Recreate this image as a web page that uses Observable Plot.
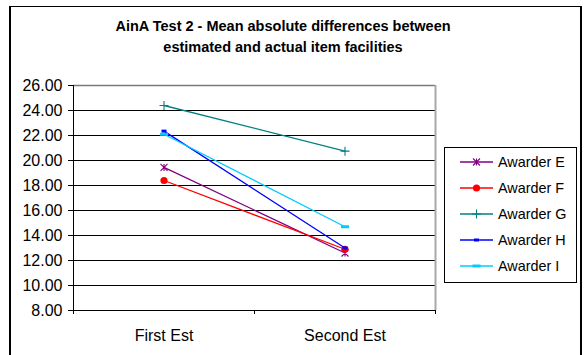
<!DOCTYPE html>
<html>
<head>
<meta charset="utf-8">
<script src="https://cdn.jsdelivr.net/npm/d3@7"></script>
<script src="https://cdn.jsdelivr.net/npm/@observablehq/plot@0.6"></script>
<style>
  body { margin: 0; background: #fff; font-family: "Liberation Sans", Arial, sans-serif; }
  #chart { position: relative; width: 585px; height: 355px; overflow: hidden; background: #fff; }
  #frame { position: absolute; left: 9px; top: 6px; width: 569px; height: 400px;
           border-top: 1px solid #000; border-left: 2px solid #000; border-right: 2px solid #000; }
  #title { position: absolute; left: 0; top: 16px; width: 566px; text-align: center;
           font-weight: bold; font-size: 14.5px; line-height: 21px; color: #000; }
  #plot { position: absolute; left: 0; top: 0; }
  #legend { position: absolute; left: 444px; top: 147px; }
</style>
</head>
<body>
<div id="chart">
  <div id="plot"></div>
  <div id="frame"></div>
  <div id="title">AinA Test 2 - Mean absolute differences between<br>estimated and actual item facilities</div>
  <div id="legend"></div>
</div>
<script>
// Categories and series values
const categories = ["First Est", "Second Est"];
const seriesNames = ["Awarder E", "Awarder F", "Awarder G", "Awarder H", "Awarder I"];
const awarderE = [19.45, 12.6];
const awarderF = [18.4, 12.9];
const awarderG = [24.4, 20.75];
const awarderH = [22.35, 13.0];
const awarderI = [22.1, 14.7];
const yTicks = [8, 10, 12, 14, 16, 18, 20, 22, 24, 26];

const seriesValues = [awarderE, awarderF, awarderG, awarderH, awarderI];
const colors = ["#800080", "#ff0000", "#008080", "#0000ff", "#00ccff"];

// Marker shapes: star, filled circle, plus, short dash, long dash
const starSymbol = { draw(c) { const r = 3.5;
  c.moveTo(-r, -r); c.lineTo(r, r); c.moveTo(-r, r); c.lineTo(r, -r);
  c.moveTo(0, -r); c.lineTo(0, r); } };
const circleSymbol = { draw(c) { c.moveTo(3.6, 0); c.arc(0, 0, 3.6, 0, 2 * Math.PI); } };
const plusSymbol = { draw(c) { const r = 4.5;
  c.moveTo(-r, 0); c.lineTo(r, 0); c.moveTo(0, -r); c.lineTo(0, r); } };
const shortDash = { draw(c) { c.rect(-2.5, -1.5, 5, 3); } };
const longDash = { draw(c) { c.rect(-4, -1.5, 8, 3); } };
const markers = [
  { symbol: starSymbol, filled: false },
  { symbol: circleSymbol, filled: true },
  { symbol: plusSymbol, filled: false },
  { symbol: shortDash, filled: true },
  { symbol: longDash, filled: true }
];

// Long table: one row per series and category (centered in its category slot)
const rows = seriesNames.flatMap((name, k) =>
  categories.map((cat, i) => ({ name, category: cat, pos: i + 0.5, value: seriesValues[k][i] })));

const seriesMarks = seriesNames.flatMap((name, k) => {
  const data = rows.filter(d => d.name === name);
  const m = markers[k];
  return [
    Plot.line(data, { x: "pos", y: "value", stroke: colors[k], strokeWidth: 1.3 }),
    Plot.dot(data, { x: "pos", y: "value", symbol: () => m.symbol, r: 4,
      fill: m.filled ? colors[k] : "none", stroke: m.filled ? "none" : colors[k], strokeWidth: 1.1 })
  ];
});

const chart = Plot.plot({
  width: 585,
  height: 355,
  marginLeft: 73,
  marginRight: 150,
  marginTop: 85,
  marginBottom: 45,
  style: { background: "transparent", fontFamily: "'Liberation Sans', Arial, sans-serif", color: "#000" },
  x: { type: "linear", domain: [0, categories.length], label: null },
  y: { domain: [yTicks[0], yTicks[yTicks.length - 1]], label: null },
  symbol: { type: "identity" },
  marks: [
    // horizontal gridlines
    Plot.ruleY(yTicks.slice(1, -1), { stroke: "#000", strokeWidth: 1 }),
    // plot-area border (top and right)
    Plot.ruleY([yTicks[yTicks.length - 1]], { stroke: "#7a7a7a", strokeWidth: 1.5 }),
    Plot.ruleX([categories.length], { stroke: "#a8a8a8", strokeWidth: 2 }),
    // axes
    Plot.axisY({ ticks: yTicks, tickFormat: d => d.toFixed(2), tickSize: 5, tickPadding: 6, fontSize: 16, label: null }),
    Plot.axisX({ ticks: d3.range(categories.length + 1), tickFormat: () => "", tickSize: 4, label: null }),
    Plot.axisX({ ticks: categories.map((c, i) => i + 0.5), tickFormat: v => categories[Math.floor(v)],
      tickSize: 0, tickPadding: 19, fontSize: 16, label: null }),
    Plot.ruleX([0], { stroke: "#000" }),
    Plot.ruleY([yTicks[0]], { stroke: "#000" }),
    ...seriesMarks
  ]
});
document.getElementById("plot").appendChild(chart);

// Legend box
const lw = 133, lh = 136;
const legend = d3.select("#legend").append("svg").attr("width", lw).attr("height", lh)
  .style("display", "block").style("overflow", "visible");
legend.append("rect").attr("x", 0.5).attr("y", 0.5).attr("width", lw - 1).attr("height", lh - 1)
  .attr("fill", "#fff").attr("stroke", "#000");
seriesNames.forEach((name, k) => {
  const cy = 15 + k * 26;
  const g = legend.append("g").attr("transform", `translate(0,${cy})`);
  g.append("line").attr("x1", 16).attr("x2", 49).attr("y1", 0).attr("y2", 0)
    .attr("stroke", colors[k]).attr("stroke-width", 1.3);
  const p = d3.path();
  markers[k].symbol.draw(p);
  g.append("path").attr("d", p.toString()).attr("transform", "translate(32.5,0)")
    .attr("fill", markers[k].filled ? colors[k] : "none")
    .attr("stroke", markers[k].filled ? "none" : colors[k]).attr("stroke-width", 1.1);
  g.append("text").attr("x", 54).attr("y", 0).attr("dy", "0.35em")
    .attr("font-size", 14.4).attr("font-family", "'Liberation Sans', Arial, sans-serif")
    .attr("fill", "#000").text(name);
});
</script>
</body>
</html>
